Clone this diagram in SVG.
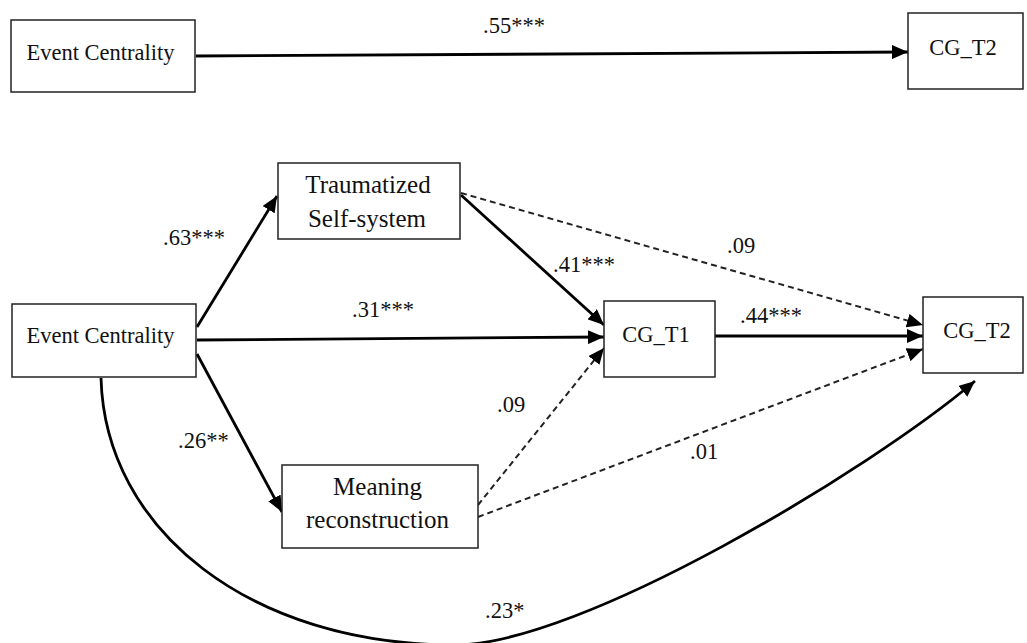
<svg xmlns="http://www.w3.org/2000/svg" width="1027" height="643" viewBox="0 0 1027 643">
<style>
.box{fill:#fff;stroke:#222;stroke-width:1.5}
.t{font-family:"Liberation Serif","Times New Roman",serif;font-size:22.5px;fill:#111;text-anchor:middle}
.tb{font-size:25px}
.lbl{font-family:"Liberation Serif","Times New Roman",serif;font-size:22.5px;fill:#111}
.s{fill:none;stroke:#000;stroke-width:2.8;marker-end:url(#ah)}
.d{fill:none;stroke:#222;stroke-width:2;stroke-dasharray:6 4;marker-end:url(#ah)}
</style>
<defs>
<marker id="ah" viewBox="0 0 16 14" refX="16" refY="7" markerWidth="16" markerHeight="14" markerUnits="userSpaceOnUse" orient="auto">
<path d="M0,0 L16,7 L0,14 Z" fill="#000"/>
</marker>
</defs>
<g id="connectors">
<path class="s" d="M196,56 L908,52"/>
<path class="s" d="M197,327 L277,196"/>
<path class="s" d="M197,340 L604,337"/>
<path class="s" d="M197,354 L282,512"/>
<path class="s" d="M461,195 L604,325"/>
<path class="d" d="M461,193 L923,325"/>
<path class="s" d="M715,336 L923,336"/>
<path class="d" d="M478,505 L604,348"/>
<path class="d" d="M478,517 L923,349"/>
<path class="s" d="M101,378 C105,530 250,645 455,645 C580,645 870,470 975,381"/>
</g>
<g id="labels">
<text class="lbl" x="483" y="33">.55***</text>
<text class="lbl" x="163" y="245">.63***</text>
<text class="lbl" x="352" y="317">.31***</text>
<text class="lbl" x="553" y="272">.41***</text>
<text class="lbl" x="727" y="253">.09</text>
<text class="lbl" x="740" y="323">.44***</text>
<text class="lbl" x="497" y="412">.09</text>
<text class="lbl" x="178" y="448">.26**</text>
<text class="lbl" x="690" y="459">.01</text>
<text class="lbl" x="485" y="618">.23*</text>
</g>
<g id="ec-top">
<rect class="box" x="11" y="20" width="184" height="72"/>
<text class="t" x="100.5" y="60">Event Centrality</text>
</g>
<g id="cgt2-top">
<rect class="box" x="908" y="13" width="115" height="76"/>
<text class="t" x="963" y="55">CG_T2</text>
</g>
<g id="traumatized">
<rect class="box" x="278" y="163" width="182" height="76"/>
<text class="t tb" x="368" y="193">Traumatized</text>
<text class="t tb" x="367" y="227">Self-system</text>
</g>
<g id="ec-main">
<rect class="box" x="12" y="304" width="184" height="73"/>
<text class="t" x="100.5" y="343">Event Centrality</text>
</g>
<g id="cgt1">
<rect class="box" x="604" y="301" width="111" height="76"/>
<text class="t" x="656" y="342">CG_T1</text>
</g>
<g id="cgt2-main">
<rect class="box" x="923" y="297" width="100" height="76"/>
<text class="t" x="977" y="338">CG_T2</text>
</g>
<g id="meaning">
<rect class="box" x="282" y="465" width="196" height="83"/>
<text class="t tb" x="377.5" y="495">Meaning</text>
<text class="t tb" x="377.5" y="528">reconstruction</text>
</g>
</svg>
